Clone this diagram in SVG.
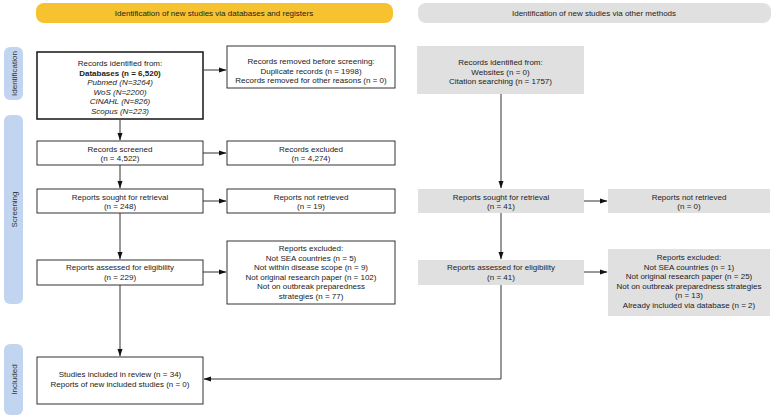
<svg xmlns="http://www.w3.org/2000/svg" width="777" height="419" viewBox="0 0 777 419">
<style>
text{font-family:"Liberation Sans",Arial,sans-serif;font-size:8px;fill:#222;text-anchor:middle}
.b{fill:#fff;stroke:#333;stroke-width:1}
.b2{fill:#fff;stroke:#222;stroke-width:1.6}
.g{fill:#e0e0e0;stroke:none}
.side{fill:#c2d5f0}
.st{fill:#333}
.c{fill:none;stroke:#333;stroke-width:1}
.it{font-style:italic}
.bd{font-weight:bold}
</style>
<defs>
<marker id="ah" markerWidth="8" markerHeight="6" refX="7" refY="3" orient="auto" markerUnits="userSpaceOnUse">
<path d="M0,0.5 L7.5,3 L0,5.5 Z" fill="#111"/>
</marker>
</defs>
<rect width="777" height="419" fill="#fff"/>
<g id="banner-db"><rect x="36" y="3" width="357" height="20" rx="8" fill="#f7c22f"/><text x="214" y="16">Identification of new studies via databases and registers</text></g>
<g id="banner-other"><rect x="418" y="3" width="353" height="20" rx="8" fill="#e0e0e0"/><text x="594" y="16">Identification of new studies via other methods</text></g>
<g id="side-identification"><rect x="4" y="47" width="19" height="53" rx="6" class="side"/><text class="st" transform="translate(16.5,73.5) rotate(-90)">Identification</text></g>
<g id="side-screening"><rect x="4" y="115" width="19" height="189" rx="6" class="side"/><text class="st" transform="translate(16.5,209.5) rotate(-90)">Screening</text></g>
<g id="side-included"><rect x="4" y="344" width="19" height="71" rx="6" class="side"/><text class="st" transform="translate(16.5,379.5) rotate(-90)">Included</text></g>
<g id="records-identified"><rect x="37" y="52" width="166" height="67" class="b2"/>
<text x="120" y="66">Records identified from:</text>
<text x="120" y="75.5" class="bd">Databases (n = 6,520)</text>
<text x="120" y="85" class="it">Pubmed (N=3264)</text>
<text x="120" y="94.5" class="it">WoS (N=2200)</text>
<text x="120" y="104" class="it">CINAHL (N=826)</text>
<text x="120" y="113.5" class="it">Scopus (N=223)</text></g>
<g id="records-removed"><rect x="227" y="46" width="168" height="42" class="b"/>
<text x="311" y="64">Records removed before screening:</text>
<text x="311" y="73.5">Duplicate records (n = 1998)</text>
<text x="311" y="83">Records removed for other reasons (n = 0)</text></g>
<g id="other-identified"><rect x="417" y="46" width="167" height="48" class="g"/>
<text x="500.5" y="65">Records identified from:</text>
<text x="500.5" y="74.5">Websites (n = 0)</text>
<text x="500.5" y="84">Citation searching (n = 1757)</text></g>
<g id="records-screened"><rect x="37" y="141" width="166" height="24" class="b"/>
<text x="120" y="151.5">Records screened</text><text x="120" y="161">(n = 4,522)</text></g>
<g id="records-excluded"><rect x="227" y="141" width="168" height="24" class="b"/>
<text x="311" y="151.5">Records excluded</text><text x="311" y="161">(n = 4,274)</text></g>
<g id="reports-sought"><rect x="37" y="189" width="166" height="24" class="b"/>
<text x="120" y="199.5">Reports sought for retrieval</text><text x="120" y="209">(n = 248)</text></g>
<g id="reports-not-retrieved"><rect x="227" y="189" width="168" height="24" class="b"/>
<text x="311" y="199.5">Reports not retrieved</text><text x="311" y="209">(n = 19)</text></g>
<g id="other-sought"><rect x="418" y="189" width="166" height="24" class="g"/>
<text x="501" y="199.5">Reports sought for retrieval</text><text x="501" y="209">(n = 41)</text></g>
<g id="other-not-retrieved"><rect x="608" y="189" width="162" height="24" class="g"/>
<text x="689" y="199.5">Reports not retrieved</text><text x="689" y="209">(n = 0)</text></g>
<g id="reports-assessed"><rect x="37" y="260" width="166" height="25" class="b"/>
<text x="120" y="270">Reports assessed for eligibility</text><text x="120" y="279.5">(n = 229)</text></g>
<g id="reports-excluded"><rect x="227" y="241" width="168" height="63" class="b"/>
<text x="311" y="251">Reports excluded:</text>
<text x="311" y="260.5">Not SEA countries (n = 5)</text>
<text x="311" y="270">Not within disease scope (n = 9)</text>
<text x="311" y="279.5">Not original research paper (n = 102)</text>
<text x="311" y="289">Not on outbreak preparedness</text>
<text x="311" y="298.5">strategies (n = 77)</text></g>
<g id="other-assessed"><rect x="418" y="260" width="166" height="25" class="g"/>
<text x="501" y="270">Reports assessed for eligibility</text><text x="501" y="279.5">(n = 41)</text></g>
<g id="other-excluded"><rect x="608" y="249" width="162" height="67" class="g"/>
<text x="689" y="260">Reports excluded:</text>
<text x="689" y="269.5">Not SEA countries (n = 1)</text>
<text x="689" y="279">Not original research paper (n = 25)</text>
<text x="689" y="288.5">Not on outbreak preparedness strategies</text>
<text x="689" y="298">(n = 13)</text>
<text x="689" y="307.5">Already included via database (n = 2)</text></g>
<g id="studies-included"><rect x="37" y="357" width="166" height="47" class="b"/>
<text x="120" y="377">Studies included in review (n = 34)</text>
<text x="120" y="387">Reports of new included studies (n = 0)</text></g>
<g id="connectors">
<path class="c" d="M120,120 V140" marker-end="url(#ah)"/>
<path class="c" d="M120,165 V188" marker-end="url(#ah)"/>
<path class="c" d="M120,213 V259" marker-end="url(#ah)"/>
<path class="c" d="M120,285 V356" marker-end="url(#ah)"/>
<path class="c" d="M204,70 H226" marker-end="url(#ah)"/>
<path class="c" d="M203,153 H226" marker-end="url(#ah)"/>
<path class="c" d="M203,201 H226" marker-end="url(#ah)"/>
<path class="c" d="M203,272 H226" marker-end="url(#ah)"/>
<path class="c" d="M501,94 V188" marker-end="url(#ah)"/>
<path class="c" d="M501,213 V259" marker-end="url(#ah)"/>
<path class="c" d="M584,201 H607" marker-end="url(#ah)"/>
<path class="c" d="M584,272 H607" marker-end="url(#ah)"/>
<path class="c" d="M501,285 V379 H204" marker-end="url(#ah)"/>
</g>
</svg>
